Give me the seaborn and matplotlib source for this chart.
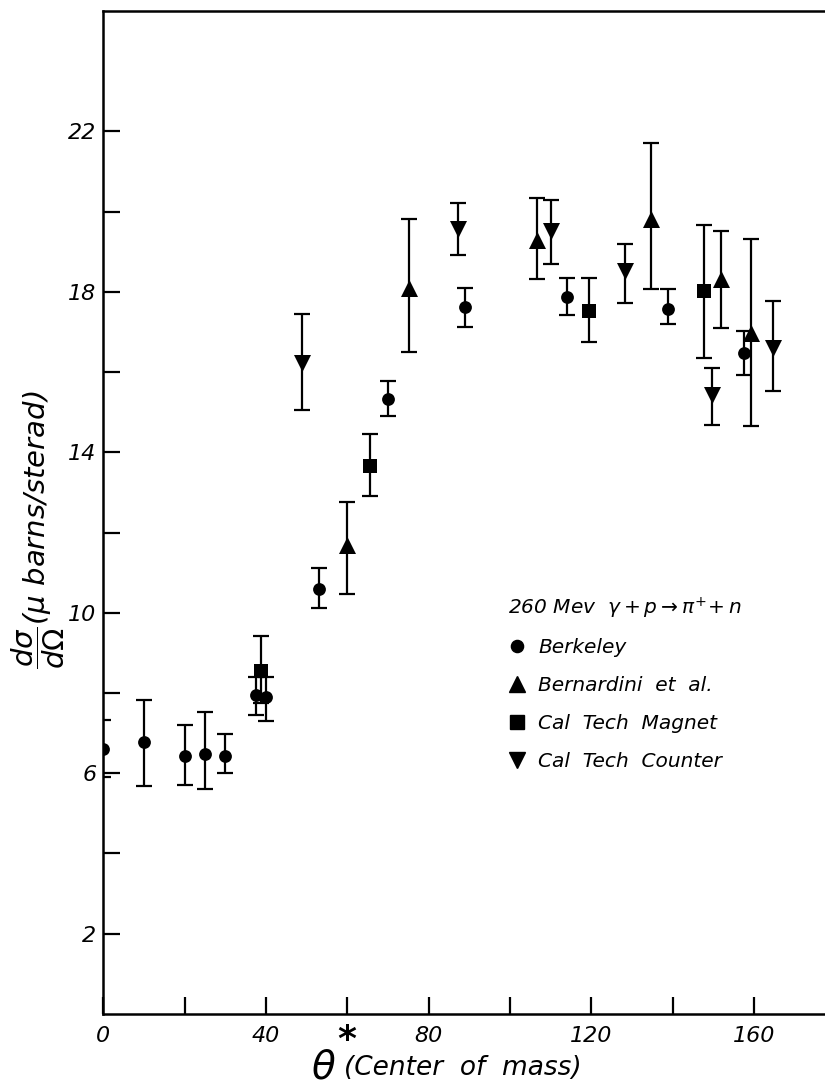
import numpy as np
import pandas as pd
import matplotlib
matplotlib.use("Agg")
import matplotlib.pyplot as plt
import seaborn as sns
from matplotlib.lines import Line2D

# ---------------- data ----------------
berk_x  = [0, 10, 20, 25, 30, 37.5, 40, 53, 70, 89, 114, 139, 157.5]
berk_y  = [6.6, 6.77, 6.42, 6.48, 6.44, 7.96, 7.89, 10.58, 15.32, 17.63, 17.88, 17.58, 16.47]
berk_hi = [7.33, 7.83, 7.19, 7.52, 6.98, 8.40, 8.40, 11.12, 15.78, 18.10, 18.35, 18.08, 17.02]
berk_lo = [5.90, 5.69, 5.70, 5.61, 6.00, 7.45, 7.30, 10.12, 14.90, 17.12, 17.42, 17.19, 15.92]

bern_x  = [60, 75.3, 106.6, 134.8, 151.8, 159.3]
bern_y  = [11.70, 18.10, 19.30, 19.81, 18.33, 16.97]
bern_hi = [12.77, 19.81, 20.35, 21.70, 19.51, 19.31]
bern_lo = [10.48, 16.50, 18.31, 18.08, 17.09, 14.65]

mag_x  = [38.7, 65.7, 119.5, 147.7]
mag_y  = [8.56, 13.66, 17.51, 18.02]
mag_hi = [9.41, 14.46, 18.34, 19.67]
mag_lo = [7.76, 12.91, 16.75, 16.36]

cnt_x  = [48.8, 87.3, 110.0, 128.3, 149.6, 164.6]
cnt_y  = [16.23, 19.56, 19.52, 18.51, 15.44, 16.61]
cnt_hi = [17.44, 20.21, 20.28, 19.19, 16.09, 17.76]
cnt_lo = [15.05, 18.91, 18.70, 17.73, 14.67, 15.53]

series_names = ["Berkeley", "Bernardini  et  al.", "Cal  Tech  Magnet", "Cal  Tech  Counter"]
legend_title = r"260 Mev  $\gamma+p\rightarrow\pi^{+}\!+n$"

y_major = [2, 6, 10, 14, 18, 22]
y_minor = [4, 8, 12, 16, 20]
x_major = [0, 40, 80, 120, 160]
x_minor = [20, 60, 100, 140]

# ---------------- build table ----------------
frames = []
for name, xs, ys, his, los in [
    (series_names[0], berk_x, berk_y, berk_hi, berk_lo),
    (series_names[1], bern_x, bern_y, bern_hi, bern_lo),
    (series_names[2], mag_x, mag_y, mag_hi, mag_lo),
    (series_names[3], cnt_x, cnt_y, cnt_hi, cnt_lo),
]:
    frames.append(pd.DataFrame({"theta": xs, "dsdo": ys, "hi": his, "lo": los, "source": name}))
df = pd.concat(frames, ignore_index=True)

sns.set_theme(style="ticks")
plt.rcParams["font.family"] = ["DejaVu Sans"]
plt.rcParams["mathtext.fontset"] = "dejavusans"
plt.rcParams["mathtext.default"] = "it"
for k in ["text.color", "axes.labelcolor", "xtick.color", "ytick.color", "axes.edgecolor"]:
    plt.rcParams[k] = "black"

fig = plt.figure(figsize=(8.25, 10.87), dpi=100)
ax = fig.add_axes([0.1252, 0.0672, 0.8748, 0.9227])

markers = {series_names[0]: "o", series_names[1]: "^", series_names[2]: "s", series_names[3]: "v"}
sizes = {series_names[0]: 85, series_names[1]: 150, series_names[2]: 110, series_names[3]: 150}

for name in series_names:
    sub = df[df["source"] == name]
    ax.errorbar(sub["theta"], sub["dsdo"],
                yerr=[sub["dsdo"] - sub["lo"], sub["hi"] - sub["dsdo"]],
                fmt="none", ecolor="black", elinewidth=1.6, capsize=5.5, capthick=1.6, zorder=2)
    sns.scatterplot(data=sub, x="theta", y="dsdo", marker=markers[name], s=sizes[name],
                    color="black", edgecolor="black", linewidth=0, ax=ax, zorder=3, legend=False)

ax.set_xlim(0, 177.5)
ax.set_ylim(0, 25)

ax.set_yticks(y_major)
ax.set_yticks(y_minor, minor=True)
ax.set_xticks(x_major)
ax.set_xticks(x_minor, minor=True)
ax.set_yticklabels([str(v) for v in y_major], fontstyle="italic", fontsize=16, color="black")
ax.set_xticklabels([str(v) for v in x_major], fontstyle="italic", fontsize=16, color="black")
ax.tick_params(axis="both", which="both", direction="in", length=12, width=1.6, color="black")
ax.tick_params(axis="y", which="both", pad=5)
ax.tick_params(axis="x", which="both", pad=9)

for s in ["left", "bottom", "top"]:
    ax.spines[s].set_linewidth(1.8)
    ax.spines[s].set_color("black")
ax.spines["right"].set_visible(False)

ax.set_xlabel("")
ax.set_ylabel(r"$\dfrac{d\sigma}{d\Omega}$(μ barns/sterad)", fontsize=21, fontstyle="italic",
              color="black")
ax.yaxis.set_label_coords(-0.05, 0.483)

# x label: theta with big asterisk, then text
ax.text(0.288, -0.053, r"$\theta$", transform=ax.transAxes, fontsize=28,
        ha="left", va="center", color="black")
ax.text(0.338, -0.026, "*", transform=ax.transAxes, fontsize=26,
        ha="center", va="center", fontweight="bold", color="black")
ax.text(0.333, -0.054, "(Center  of  mass)", transform=ax.transAxes, fontsize=19,
        fontstyle="italic", ha="left", va="center", color="black")

handles = [Line2D([0], [0], marker=markers[n], color="black", linestyle="none",
                  markersize=(sizes[n] ** 0.5) * 0.95) for n in series_names]
leg = ax.legend(handles, series_names, title=legend_title, loc="upper left",
                bbox_to_anchor=(0.547, 0.427), frameon=False, alignment="left",
                handlelength=0.9, handletextpad=0.6, labelspacing=0.95, borderpad=0,
                prop={"size": 14.5, "style": "italic"},
                title_fontproperties={"size": 14.5, "style": "italic"})
leg._legend_box.sep = 12
for t in leg.get_texts():
    t.set_color("black")
leg.get_title().set_color("black")

fig.savefig("out.png", dpi=100)
